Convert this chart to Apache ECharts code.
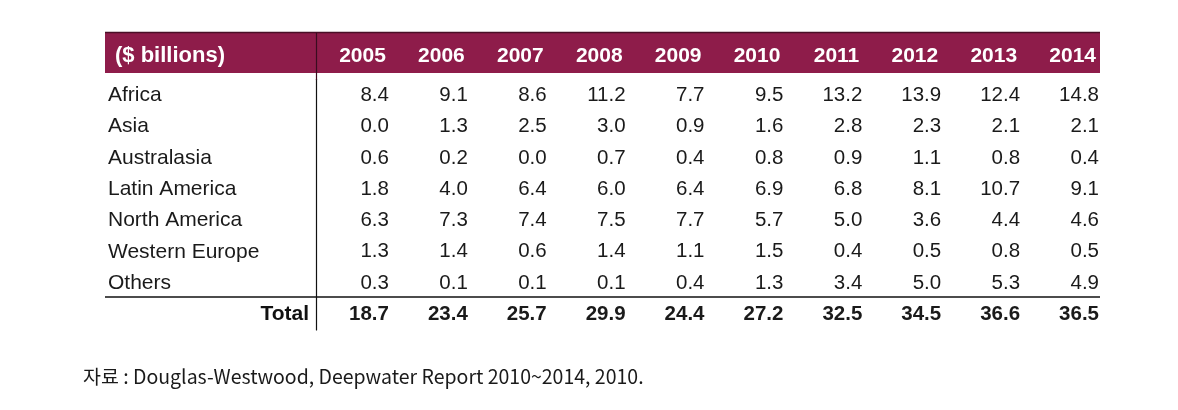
<!DOCTYPE html>
<html>
<head>
<meta charset="utf-8">
<script src="https://cdn.jsdelivr.net/npm/echarts@6/dist/echarts.min.js"></script>
<style>
html,body{margin:0;padding:0;background:#fff;}
#chart{width:1178px;height:410px;}
</style>
</head>
<body>
<div id="chart"></div>
<script>
const years = ['2005','2006','2007','2008','2009','2010','2011','2012','2013','2014'];
const regions = ['Africa','Asia','Australasia','Latin America','North America','Western Europe','Others'];
const unitLabel = '($ billions)';
const totalLabel = 'Total';
const africa        = [8.4, 9.1, 8.6, 11.2, 7.7, 9.5, 13.2, 13.9, 12.4, 14.8];
const asia          = [0.0, 1.3, 2.5, 3.0, 0.9, 1.6, 2.8, 2.3, 2.1, 2.1];
const australasia   = [0.6, 0.2, 0.0, 0.7, 0.4, 0.8, 0.9, 1.1, 0.8, 0.4];
const latinAmerica  = [1.8, 4.0, 6.4, 6.0, 6.4, 6.9, 6.8, 8.1, 10.7, 9.1];
const northAmerica  = [6.3, 7.3, 7.4, 7.5, 7.7, 5.7, 5.0, 3.6, 4.4, 4.6];
const westernEurope = [1.3, 1.4, 0.6, 1.4, 1.1, 1.5, 0.4, 0.5, 0.8, 0.5];
const others        = [0.3, 0.1, 0.1, 0.1, 0.4, 1.3, 3.4, 5.0, 5.3, 4.9];
const totals        = [18.7, 23.4, 25.7, 29.9, 24.4, 27.2, 32.5, 34.5, 36.6, 36.5];
const sourceText = '자료 : Douglas-Westwood, Deepwater Report 2010~2014, 2010.';

const rowValues = [africa, asia, australasia, latinAmerica, northAmerica, westernEurope, others, totals];
const rowNames = regions.concat([totalLabel]);

const FONT = '"Liberation Sans", Arial, sans-serif';
const bodyCells = [];
rowValues.forEach((vals, r) => {
  vals.forEach((v, c) => {
    bodyCells.push({ value: [c, r], text: v.toFixed(1), bold: r === rowValues.length - 1 });
  });
});
const headCells = years.map((y, c) => ({ value: [c, 0], text: y }));

function cellRenderer(cells, opts) {
  return function (params, api) {
    const cell = cells[params.dataIndex];
    const p = api.coord([api.value(0), api.value(1)]);
    const s = api.size([1, 1]);
    return {
      type: 'text',
      style: {
        x: p[0] + s[0] / 2 - opts.pad,
        y: p[1] + opts.dy,
        text: cell.text,
        align: 'right',
        verticalAlign: 'middle',
        fill: opts.color,
        fontSize: opts.size,
        fontWeight: (opts.bold || cell.bold) ? 'bold' : 'normal',
        fontFamily: FONT
      }
    };
  };
}

const chart = echarts.init(document.getElementById('chart'), null, { renderer: 'canvas' });
chart.setOption({
  animation: false,
  backgroundColor: '#ffffff',
  grid: [
    { left: 316, right: 73, top: 79.6, bottom: 80 },
    { left: 316, right: 73, top: 33, height: 46.6 }
  ],
  xAxis: [
    { type: 'category', gridIndex: 0, data: years, axisLine: { show: false }, axisTick: { show: false }, axisLabel: { show: false }, splitLine: { show: false } },
    { type: 'category', gridIndex: 1, data: years, axisLine: { show: false }, axisTick: { show: false }, axisLabel: { show: false }, splitLine: { show: false } }
  ],
  yAxis: [
    {
      type: 'category', gridIndex: 0, inverse: true, data: rowNames,
      axisLine: { show: true, lineStyle: { color: '#111', width: 1.2 } },
      axisTick: { show: false }, splitLine: { show: false },
      axisLabel: {
        align: 'left', margin: 208, fontSize: 21, color: '#1a1a1a', fontFamily: FONT,
        formatter: v => v === totalLabel ? '{t|' + v + '}' : v,
        rich: { t: { width: 201, align: 'right', fontWeight: 'bold', fontSize: 21, color: '#111', fontFamily: FONT } }
      }
    },
    {
      type: 'category', gridIndex: 1, data: [unitLabel],
      axisLine: { show: true, lineStyle: { color: '#3a0c1f', width: 1.2 } },
      axisTick: { show: false }, splitLine: { show: false },
      axisLabel: { align: 'left', margin: 201, fontSize: 22, fontWeight: 'bold', color: '#ffffff', fontFamily: FONT }
    }
  ],
  series: [
    {
      type: 'custom', xAxisIndex: 0, yAxisIndex: 0, z: 5,
      data: bodyCells.map(d => d.value),
      renderItem: cellRenderer(bodyCells, { pad: 6, dy: 0, color: '#1a1a1a', size: 20.5 })
    },
    {
      type: 'custom', xAxisIndex: 1, yAxisIndex: 1, z: 5,
      data: headCells.map(d => d.value),
      renderItem: cellRenderer(headCells, { pad: 9, dy: 0, color: '#ffffff', size: 21, bold: true })
    }
  ],
  graphic: [
    { type: 'rect', z: -1, shape: { x: 105, y: 33, width: 995, height: 40 }, style: { fill: '#8e1c4a' } },
    { type: 'line', z: -1, shape: { x1: 105, y1: 32.5, x2: 1100, y2: 32.5 }, style: { stroke: '#4a0f27', lineWidth: 1.5 } },
    { type: 'line', shape: { x1: 105, y1: 297, x2: 1100, y2: 297 }, style: { stroke: '#111', lineWidth: 1.5 } },
    { type: 'text', style: { x: 83, y: 377, text: sourceText, verticalAlign: 'middle', fontSize: 19.5, fill: '#1a1a1a', fontFamily: '"Noto Sans CJK KR", sans-serif' } }
  ]
});
</script>
</body>
</html>
